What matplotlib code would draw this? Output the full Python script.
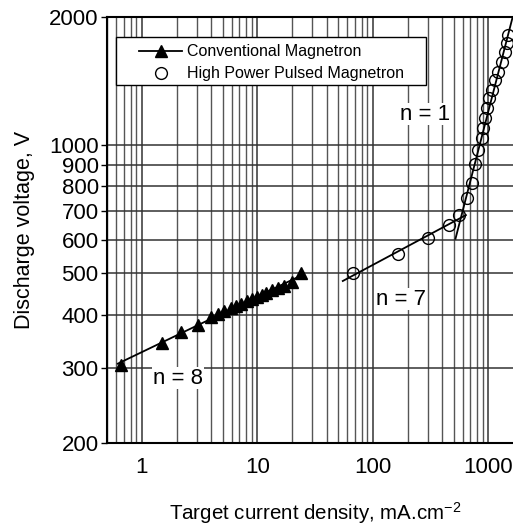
import numpy as np
import matplotlib
matplotlib.use("Agg")
import matplotlib.pyplot as plt
from matplotlib.lines import Line2D
from matplotlib.patches import Rectangle
from matplotlib.ticker import FixedLocator, NullLocator, LogLocator, NullFormatter

plt.rcParams['font.family'] = ['Liberation Sans', 'DejaVu Sans']
plt.rcParams['mathtext.fontset'] = 'custom'
plt.rcParams['mathtext.rm'] = 'Liberation Sans'
plt.rcParams['mathtext.it'] = 'Liberation Sans'

# conventional (dc) magnetron: current density (mA/cm2), voltage (V)
conv_j = [0.66, 1.49, 2.18, 3.07, 4.0, 4.6, 5.2, 5.9, 6.6, 7.3, 8.1, 9.0,
          10, 11, 12, 13.5, 15, 17, 20, 24]
conv_v = [305, 343, 365, 378, 395, 402, 408, 414, 420, 425, 430, 436,
          441, 446, 451, 456, 461, 466, 478, 501]

# high power pulsed magnetron
hppm_j = [67, 165, 301, 458, 560, 656, 727, 771, 819, 887, 905, 942, 980,
          1020, 1083, 1150, 1222, 1324, 1406, 1462, 1493]
hppm_v = [500, 556, 605, 650, 686, 752, 815, 905, 975, 1040, 1097, 1158, 1222,
          1291, 1349, 1422, 1485, 1567, 1655, 1738, 1815]
n_low = 5   # points on the n = 7 branch

y_ticks = [200, 300, 400, 500, 600, 700, 800, 900, 1000, 2000]
x_ticks = [1, 10, 100, 1000]


def power_fit(x, y, xr):
    # straight line in log-log space, evaluated over the range xr
    k, b = np.polyfit(np.log10(x), np.log10(y), 1)
    xs = np.array(xr)
    return xs, 10 ** (b + k * np.log10(xs))


fig = plt.figure(figsize=(5.13, 5.26), dpi=100)
ax = fig.add_axes([0.2086, 0.1578, 0.811, 0.81])
ax.set_xscale('log')
ax.set_yscale('log')
ax.set_xlim(0.5, 2000)
ax.set_ylim(200, 2000)

ax.xaxis.set_major_locator(FixedLocator(x_ticks))
ax.xaxis.set_minor_locator(LogLocator(base=10, subs=np.arange(2, 10)))
ax.xaxis.set_minor_formatter(NullFormatter())
ax.set_xticklabels([str(t) for t in x_ticks])
ax.yaxis.set_major_locator(FixedLocator(y_ticks))
ax.yaxis.set_minor_locator(NullLocator())
ax.set_yticklabels([str(t) for t in y_ticks])

ax.grid(True, which='major', axis='both', color='#333333', lw=1.1)
ax.grid(True, which='minor', axis='x', color='#555555', lw=1.0)
ax.tick_params(axis='y', which='major', direction='out', length=4, width=1,
               labelsize=16, pad=2)
ax.tick_params(axis='x', which='both', direction='in', length=0, labelsize=16, pad=10)
for s in ['left', 'bottom', 'top']:
    ax.spines[s].set_linewidth(1.5)
ax.spines['right'].set_visible(False)

# fitted power-law lines
xs, ys = power_fit(conv_j, conv_v, [0.62, 25])
ax.plot(xs, ys, color='black', lw=1.3, zorder=3)
xs, ys = power_fit(hppm_j[:n_low], hppm_v[:n_low], [55, 640])
ax.plot(xs, ys, color='black', lw=1.3, zorder=3)
xs, ys = power_fit(hppm_j[n_low:], hppm_v[n_low:], [520, 2000])
ax.plot(xs, ys, color='black', lw=1.3, zorder=3)

ax.plot(conv_j, conv_v, ls='none', marker='^', ms=9, color='black', zorder=4)
ax.plot(hppm_j, hppm_v, ls='none', marker='o', ms=8.5, mfc='none', mec='black',
        mew=1.0, zorder=4, clip_on=False)

ax.text(2.06, 284, 'n = 8', fontsize=16, ha='center', va='center',
        bbox=dict(fc='white', ec='none', pad=0.5))
ax.text(175, 435, 'n = 7', fontsize=16, ha='center', va='center',
        bbox=dict(fc='white', ec='none', pad=0.5))
ax.text(283, 1183, 'n = 1', fontsize=16, ha='center', va='center',
        bbox=dict(fc='white', ec='none', pad=0.5))

ax.set_xlabel('Target current density, mA.cm$^{-2}$', fontsize=14.8, labelpad=16)
ax.set_ylabel('Discharge voltage, V', fontsize=15.5, labelpad=10)

# legend box, drawn separately so the padding around the entries can be wide
ax.add_patch(Rectangle((0.0216, 0.840), 0.745, 0.113, transform=ax.transAxes,
                       fc='white', ec='black', lw=1.0, zorder=5))
handles = [Line2D([], [], color='black', lw=1.3, marker='^', ms=9),
           Line2D([], [], ls='none', marker='o', ms=8.5, mfc='none', mec='black')]
leg = ax.legend(handles, ['Conventional Magnetron', 'High Power Pulsed Magnetron'],
                loc='upper left', bbox_to_anchor=(0.077, 0.936), fontsize=11.5,
                frameon=False, borderpad=0, labelspacing=0.45, handlelength=2.7,
                handletextpad=0.3, borderaxespad=0)
leg.set_zorder(6)

fig.savefig('out.png', dpi=100)
